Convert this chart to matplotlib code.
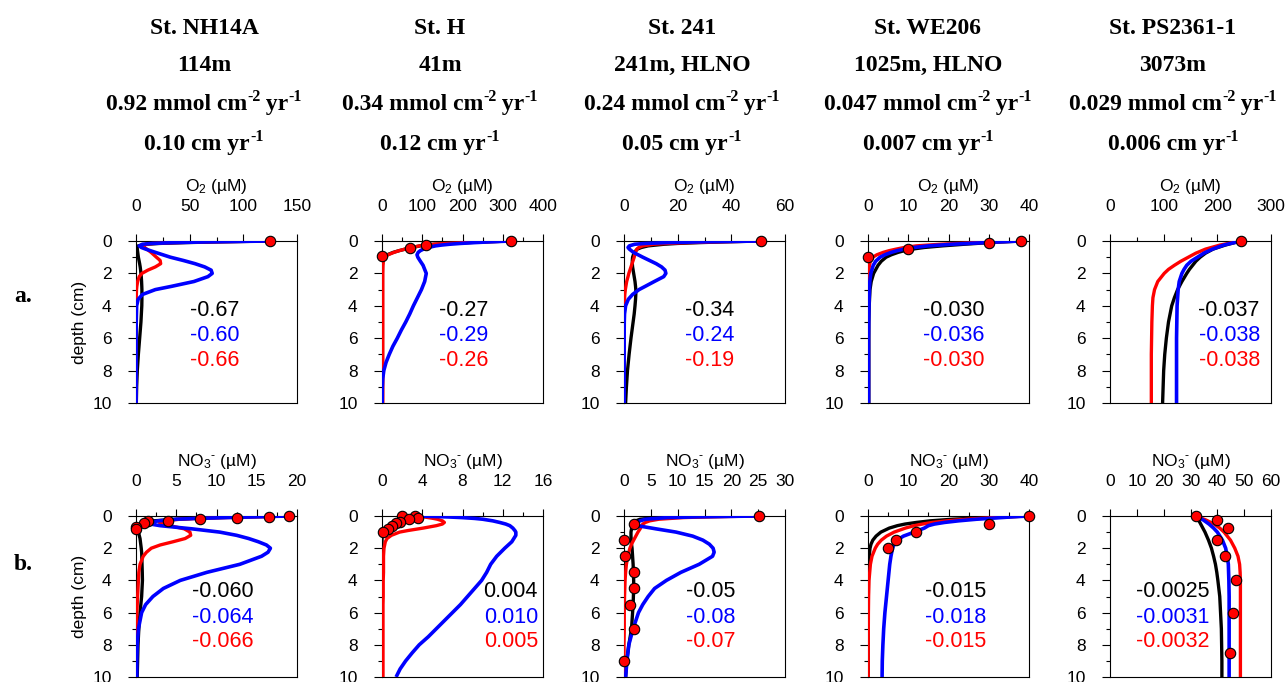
import matplotlib
matplotlib.use("Agg")
import matplotlib.pyplot as plt
from matplotlib.ticker import MultipleLocator, NullLocator
from matplotlib.transforms import IdentityTransform

plt.rcParams['font.family'] = ['Liberation Sans', 'DejaVu Sans']
plt.rcParams['mathtext.fontset'] = 'custom'
plt.rcParams['mathtext.rm'] = 'Liberation Sans'
plt.rcParams['mathtext.it'] = 'Liberation Sans:italic'
plt.rcParams['mathtext.bf'] = 'Liberation Sans:bold'

# ---------------- header text ----------------
stations = ["St. NH14A", "St. H", "St. 241", "St. WE206", "St. PS2361-1"]
water_depths = ["114m", "41m", "241m, HLNO", "1025m, HLNO", "3073m"]
fluxes = ["0.92", "0.34", "0.24", "0.047", "0.029"]
sed_rates = ["0.10", "0.12", "0.05", "0.007", "0.006"]

# ---------------- O2 panels (row a) ----------------
o2_nh14a_depth = [0, 0.05, 0.1, 0.15, 0.2, 0.3, 0.4, 0.5, 0.7, 1.0, 1.2, 1.4, 1.6, 1.8,
                  2.0, 2.2, 2.5, 2.8, 3.0, 3.3, 3.6, 4.0, 5.0, 6.0, 7.0, 8.0, 9.0, 10.0]
o2_nh14a_black = [125, 80, 45, 22, 10, 2, 1, 1.2, 1.6, 2.2, 2.8, 3.4, 3.9, 4.3,
                  4.6, 4.9, 5.2, 5.4, 5.5, 5.5, 5.5, 5.4, 4.6, 3.4, 2.2, 1.2, 0.6, 0.3]
o2_nh14a_blue = [125, 70, 35, 15, 6, 3, 5, 9, 18, 32, 44, 55, 64, 70,
                 71, 67, 54, 33, 18, 6, 2, 0.6, 0.2, 0.1, 0.1, 0.1, 0.1, 0.1]
o2_nh14a_red = [125, 70, 35, 16, 9, 7, 8, 10, 14, 19, 22.5, 23, 18, 11,
                5.5, 3, 1.5, 0.8, 0.5, 0.3, 0.2, 0.1, 0, 0, 0, 0, 0, 0]
o2_nh14a_obs_val = [125]
o2_nh14a_obs_depth = [0]

o2_h_depth = [0, 0.05, 0.1, 0.15, 0.2, 0.25, 0.3, 0.4, 0.5, 0.6, 0.7, 0.85, 1.0, 1.2, 1.5,
              2.0, 2.5, 3.0, 3.5, 4.0, 4.5, 5.0, 5.5, 6.0, 6.5, 7.0, 7.5, 8.0, 8.5, 9.0, 10.0]
o2_h_black = [320, 260, 210, 165, 130, 110, 95, 75, 58, 42, 28, 13, 5, 2, 1,
              1, 1, 1, 1, 1, 1, 1, 1, 1, 1, 1, 1, 1, 1, 1, 1]
o2_h_blue = [320, 270, 230, 195, 168, 148, 133, 115, 103, 95, 90, 87, 89, 94, 102,
             110, 106, 98, 88, 78, 69, 59, 48, 38, 27, 18, 10, 4.5, 1.8, 0.8, 0.5]
o2_h_red = [320, 255, 205, 160, 128, 108, 93, 74, 57, 42, 30, 15, 7, 3.5, 2.5,
            2, 2, 2, 2, 2, 2, 2, 2, 2, 2, 2, 2, 2, 2, 2, 2]
o2_h_obs_val = [320, 110, 70, 0]
o2_h_obs_depth = [0, 0.25, 0.45, 0.93]

o2_241_depth = [0, 0.05, 0.1, 0.15, 0.2, 0.3, 0.4, 0.5, 0.7, 1.0, 1.2, 1.4, 1.6, 1.8, 2.0,
                2.2, 2.5, 2.8, 3.0, 3.3, 3.6, 4.0, 4.5, 5.0, 6.0, 7.0, 8.0, 9.0, 10.0]
o2_241_black = [51, 38, 28, 20, 15, 9, 6.5, 5, 3.8, 3.2, 3.1, 3.1, 3.2, 3.4, 3.6,
                3.8, 4.1, 4.3, 4.4, 4.4, 4.3, 4.1, 3.8, 3.4, 2.6, 1.9, 1.3, 0.9, 0.6]
o2_241_blue = [51, 30, 16, 8, 4, 2, 1.5, 2, 3.5, 7, 9.5, 12, 14, 15.3, 15.6,
               14.8, 11.3, 7.9, 5.6, 3.2, 1.6, 0.6, 0.2, 0.1, 0.05, 0.05, 0.05, 0.05, 0.05]
o2_241_red = [51, 35, 24, 16, 11, 7, 5.5, 4.8, 4.2, 3.8, 3.4, 3.0, 2.6, 2.2, 1.8,
              1.5, 1.0, 0.7, 0.5, 0.3, 0.2, 0.1, 0, 0, 0, 0, 0, 0, 0]
o2_241_obs_val = [51]
o2_241_obs_depth = [0]

o2_we206_depth = [0, 0.05, 0.1, 0.15, 0.2, 0.3, 0.4, 0.5, 0.6, 0.7, 0.85, 1.0, 1.25, 1.5,
                  2.0, 2.5, 3.0, 4.0, 5.0, 6.0, 8.0, 10.0]
o2_we206_black = [38, 34, 30, 27, 24, 18.5, 14, 11, 9, 7.5, 5.8, 4.5, 3.3, 2.5,
                  1.4, 0.8, 0.5, 0.3, 0.2, 0.2, 0.2, 0.2]
o2_we206_blue = [38, 33, 29, 25, 21, 15, 11.5, 9, 7.2, 5.8, 4.2, 3.0, 1.9, 1.3,
                 0.7, 0.45, 0.35, 0.25, 0.2, 0.15, 0.15, 0.15]
o2_we206_red = [38, 32, 27, 22, 18, 12, 9, 7, 5.2, 3.8, 2.2, 1.2, 0.6, 0.35,
                0.15, 0.1, 0.1, 0.1, 0.1, 0.1, 0.1, 0.1]
o2_we206_obs_val = [38, 30, 10, 0]
o2_we206_obs_depth = [0, 0.1, 0.5, 1.0]

o2_ps_depth = [0, 0.25, 0.5, 0.75, 1.0, 1.25, 1.5, 1.75, 2.0, 2.5, 3.0, 3.5, 4.0, 5.0, 6.0, 7.0, 8.0, 9.0, 10.0]
o2_ps_black = [244, 215, 192, 178, 168, 160, 154, 148, 143, 134, 126, 120, 115, 109, 105, 102, 100, 99, 98]
o2_ps_blue = [244, 212, 191, 175, 163, 151, 143, 138, 134, 129, 127, 126, 125, 124.5, 124, 124, 124, 124, 124]
o2_ps_red = [244, 205, 178, 160, 146, 132, 120, 109, 101, 89, 83, 80, 79, 78, 77.5, 77, 77, 77, 77]
o2_ps_obs_val = [244]
o2_ps_obs_depth = [0]

# ---------------- NO3 panels (row b) ----------------
no3_nh14a_depth = [0, 0.05, 0.1, 0.15, 0.2, 0.3, 0.4, 0.5, 0.6, 0.8, 1.0, 1.2, 1.4, 1.6, 1.8,
                   2.0, 2.25, 2.5, 3.0, 3.5, 4.0, 4.5, 5.0, 5.5, 6.0, 7.0, 8.0, 9.0, 10.0]
no3_nh14a_black = [19, 14, 10, 7, 5, 2.2, 1.0, 0.5, 0.3, 0.2, 0.3, 0.4, 0.5, 0.55, 0.6,
                   0.65, 0.7, 0.72, 0.75, 0.78, 0.8, 0.75, 0.7, 0.6, 0.5, 0.35, 0.25, 0.2, 0.15]
no3_nh14a_blue = [19, 15, 11, 7.5, 5, 2.8, 1.6, 1.8, 3, 7, 10.4, 12.5, 14, 15.2, 16.2,
                  16.7, 16.4, 15.6, 12.9, 8.8, 5.5, 3.4, 2.1, 1.2, 0.7, 0.3, 0.15, 0.1, 0.1]
no3_nh14a_red = [19, 15, 11, 7.5, 5.5, 3.5, 2.9, 3.2, 4.2, 6, 6.7, 6.8, 6.1, 4.6, 3.0,
                 1.9, 1.3, 0.9, 0.5, 0.35, 0.3, 0.25, 0.2, 0.15, 0.1, 0.05, 0, 0, 0]
no3_nh14a_obs_val = [19, 16.5, 12.5, 8, 4, 1.5, 1.0, 0, 0]
no3_nh14a_obs_depth = [0, 0.08, 0.14, 0.2, 0.29, 0.33, 0.43, 0.7, 0.82]

no3_h_depth = [0, 0.03, 0.06, 0.1, 0.15, 0.2, 0.3, 0.4, 0.5, 0.6, 0.75, 0.9, 1.0, 1.2, 1.4, 1.6, 2.0, 2.5,
               3.0, 3.5, 4.0, 4.5, 5.0, 5.5, 6.0, 6.5, 7.0, 7.5, 8.0, 8.5, 9.0, 9.5, 10.0]
no3_h_black = [3.5, 3.4, 3.3, 3.0, 2.8, 2.5, 2.0, 1.6, 1.25, 0.95, 0.6, 0.3, 0.15, 0.05, 0, 0, 0, 0,
               0, 0, 0, 0, 0, 0, 0, 0, 0, 0, 0, 0, 0, 0, 0]
no3_h_blue = [3.6, 5.2, 6.6, 8.0, 9.2, 10.0, 11.0, 11.7, 12.3, 12.7, 13.0, 13.2, 13.3, 13.3, 13.1, 12.9, 12.2, 11.4,
              10.8, 10.4, 9.9, 9.2, 8.5, 7.8, 7.0, 6.2, 5.4, 4.6, 3.7, 3.0, 2.35, 1.8, 1.4]
no3_h_red = [3.6, 3.9, 4.2, 4.6, 5.1, 5.5, 6.0, 6.2, 6.0, 5.4, 4.1, 2.6, 1.75, 0.93, 0.5, 0.33, 0.2, 0.15,
             0.15, 0.15, 0.12, 0.12, 0.12, 0.1, 0.1, 0.1, 0.1, 0.1, 0.1, 0.1, 0.1, 0.1, 0.1]
no3_h_obs_val = [2.0, 3.3, 3.6, 2.7, 1.8, 1.4, 1.0, 0.6, 0.1]
no3_h_obs_depth = [0, 0, 0.1, 0.2, 0.35, 0.45, 0.6, 0.8, 0.97]

no3_241_depth = [0, 0.05, 0.1, 0.2, 0.3, 0.4, 0.5, 0.6, 0.8, 1.0, 1.25, 1.5, 1.75, 2.0,
                 2.25, 2.5, 3.0, 3.5, 4.0, 4.5, 5.0, 5.5, 6.0, 6.5, 7.0, 8.0, 9.0, 10.0]
no3_241_black = [25, 12, 6, 3, 2.2, 2.0, 1.8, 1.6, 1.4, 1.3, 1.3, 1.35, 1.4, 1.5,
                 1.55, 1.6, 1.7, 1.75, 1.8, 1.8, 1.75, 1.7, 1.6, 1.5, 1.4, 0.9, 0.5, 0.3]
no3_241_blue = [25, 14, 8, 4, 3, 2.4, 2.2, 2.5, 6, 9.7, 12.8, 14.7, 15.9, 16.6,
                16.8, 16.5, 14.0, 10.6, 7.9, 5.7, 4.5, 3.5, 2.7, 2.2, 1.7, 0.9, 0.55, 0.3]
no3_241_red = [25, 16, 11, 6.5, 4.8, 4.0, 3.5, 3.3, 3.0, 2.6, 2.2, 1.8, 1.4, 1.1,
               0.9, 0.7, 0.45, 0.3, 0.2, 0.15, 0.1, 0.08, 0.05, 0.05, 0.05, 0, 0, 0]
no3_241_obs_val = [25.2, 1.85, 0, 0.1, 1.85, 1.85, 1.1, 1.85, 0]
no3_241_obs_depth = [0, 0.5, 1.5, 2.5, 3.5, 4.5, 5.5, 7.0, 9.0]

no3_we206_depth = [0, 0.05, 0.1, 0.2, 0.3, 0.4, 0.5, 0.6, 0.75, 1.0, 1.25, 1.5, 1.75, 2.0,
                   2.5, 3.0, 4.0, 5.0, 6.0, 7.0, 8.0, 9.0, 10.0]
no3_we206_black = [40, 34, 29, 21, 15.5, 12, 9.2, 7.3, 5.3, 3.2, 2.0, 1.2, 0.75, 0.5,
                   0.3, 0.2, 0.1, 0.08, 0.06, 0.05, 0.05, 0.05, 0.05]
no3_we206_blue = [40, 36, 33, 27, 22.5, 19, 16.5, 15, 14, 11.5, 8.8, 7.2, 6.5, 6.1,
                  5.7, 5.4, 5.0, 4.6, 4.2, 3.9, 3.7, 3.55, 3.5]
no3_we206_red = [40, 35, 31, 24.5, 19.5, 16, 13.5, 11.5, 9.3, 6.5, 4.6, 3.3, 2.4, 1.8,
                 1.0, 0.6, 0.25, 0.15, 0.1, 0.08, 0.05, 0.05, 0.05]
no3_we206_obs_val = [40, 30, 12, 7, 5]
no3_we206_obs_depth = [0, 0.5, 1.0, 1.5, 2.0]

no3_ps_depth = [0, 0.25, 0.5, 0.75, 1.0, 1.5, 2.0, 2.5, 3.0, 3.5, 4.0, 5.0, 6.0, 7.0, 8.0, 9.0, 10.0]
no3_ps_black = [32, 33, 33.8, 34.6, 35.4, 36.7, 37.8, 38.6, 39.3, 39.8, 40.2, 40.9, 41.2, 41.5, 41.6, 41.7, 41.7]
no3_ps_blue = [32, 34.8, 36.9, 38.6, 40, 41.9, 43.1, 43.7, 44.1, 44.2, 44.3, 44.4, 44.4, 44.4, 44.4, 44.4, 44.4]
no3_ps_red = [32, 35.8, 38.8, 40.9, 42.5, 44.9, 46.5, 47.7, 48.3, 48.5, 48.6, 48.6, 48.6, 48.6, 48.6, 48.6, 48.6]
no3_ps_obs_val = [32, 40, 43.8, 40, 43, 47, 45.9, 44.9]
no3_ps_obs_depth = [0, 0.25, 0.75, 1.5, 2.5, 4.0, 6.0, 8.5]

# ---------------- panel annotations ----------------
o2_labels = [["-0.67", "-0.60", "-0.66"], ["-0.27", "-0.29", "-0.26"], ["-0.34", "-0.24", "-0.19"],
             ["-0.030", "-0.036", "-0.030"], ["-0.037", "-0.038", "-0.038"]]
no3_labels = [["-0.060", "-0.064", "-0.066"], ["0.004", "0.010", "0.005"], ["-0.05", "-0.08", "-0.07"],
              ["-0.015", "-0.018", "-0.015"], ["-0.0025", "-0.0031", "-0.0032"]]
o2_xmax = [150, 400, 60, 40, 300]
o2_major = [50, 100, 20, 10, 100]
no3_xmax = [20, 16, 30, 40, 60]
no3_major = [5, 4, 5, 10, 10]
no3_minor = [2.5, 2, None, 5, None]

o2_panels = [
    (o2_nh14a_depth, o2_nh14a_black, o2_nh14a_blue, o2_nh14a_red, o2_nh14a_obs_val, o2_nh14a_obs_depth),
    (o2_h_depth, o2_h_black, o2_h_blue, o2_h_red, o2_h_obs_val, o2_h_obs_depth),
    (o2_241_depth, o2_241_black, o2_241_blue, o2_241_red, o2_241_obs_val, o2_241_obs_depth),
    (o2_we206_depth, o2_we206_black, o2_we206_blue, o2_we206_red, o2_we206_obs_val, o2_we206_obs_depth),
    (o2_ps_depth, o2_ps_black, o2_ps_blue, o2_ps_red, o2_ps_obs_val, o2_ps_obs_depth),
]
no3_panels = [
    (no3_nh14a_depth, no3_nh14a_black, no3_nh14a_blue, no3_nh14a_red, no3_nh14a_obs_val, no3_nh14a_obs_depth),
    (no3_h_depth, no3_h_black, no3_h_blue, no3_h_red, no3_h_obs_val, no3_h_obs_depth),
    (no3_241_depth, no3_241_black, no3_241_blue, no3_241_red, no3_241_obs_val, no3_241_obs_depth),
    (no3_we206_depth, no3_we206_black, no3_we206_blue, no3_we206_red, no3_we206_obs_val, no3_we206_obs_depth),
    (no3_ps_depth, no3_ps_black, no3_ps_blue, no3_ps_red, no3_ps_obs_val, no3_ps_obs_depth),
]

W, H = 1287, 682
fig = plt.figure(figsize=(W / 100, H / 100), dpi=100)

lefts_px = [136, 382, 624, 868, 1110]
width_px = 161
row_top_px = [241, 516]
row_h_px = [162, 161]
title_cx_px = [204, 440, 682, 928, 1173]
o2_text_x = [0.49, 0.51, 0.53, 0.53, 0.74]
no3_text_x = [0.54, 0.80, 0.54, 0.545, 0.39]
o2_text_d = [4.3, 5.85, 7.4]
no3_text_d = [4.68, 6.3, 7.8]

TICK_FS = 12.5
ANN_FS = 15.5

# nitrate label: hyphen superscript placed after the subscript
no3_label = r'NO$_3{}^{\text{-}}$ (µM)'
try:
    from matplotlib.mathtext import MathTextParser
    MathTextParser('agg').parse(no3_label, 100)
except Exception:
    no3_label = r'NO$_3{}^-$ (µM)'


def style_axes(ax, xmax, major, minor, xlabel, first_col):
    ax.set_xlim(0, xmax)
    ax.set_ylim(10, 0)
    ax.xaxis.tick_top()
    ax.xaxis.set_label_position('top')
    ax.xaxis.set_major_locator(MultipleLocator(major))
    if minor:
        ax.xaxis.set_minor_locator(MultipleLocator(minor))
    else:
        ax.xaxis.set_minor_locator(NullLocator())
    ax.yaxis.set_major_locator(MultipleLocator(2))
    ax.yaxis.set_minor_locator(MultipleLocator(1))
    ax.tick_params(axis='x', which='major', direction='out', length=5, width=0.8,
                   pad=14.5, labelsize=TICK_FS)
    ax.tick_params(axis='x', which='minor', direction='out', length=3, width=0.8)
    ax.tick_params(axis='y', which='major', direction='out', length=5.5, width=0.8,
                   pad=12, labelsize=TICK_FS)
    ax.tick_params(axis='y', which='minor', direction='out', length=3, width=0.8)
    for sp in ax.spines.values():
        sp.set_linewidth(0.8)
    ax.set_xlabel(xlabel, fontsize=TICK_FS, labelpad=6)
    if first_col:
        ax.set_ylabel('depth (cm)', fontsize=TICK_FS, labelpad=4)


def draw_panel(ax, data, labels, tx, tds):
    depth, blk, blu, red, ov, od = data
    ax.plot(blk, depth, color='black', lw=2.4, zorder=2, solid_capstyle='butt')
    ax.plot(red, depth, color='#ff0000', lw=2.4, zorder=3, solid_capstyle='butt')
    ax.plot(blu, depth, color='#0000ff', lw=2.6, zorder=4, solid_capstyle='butt')
    ax.plot(ov, od, linestyle='none', marker='o', markersize=7.5, markerfacecolor='#ff0000',
            markeredgecolor='black', markeredgewidth=0.8, zorder=5, clip_on=False)
    for lab, col, d in zip(labels, ['black', '#0000ff', '#ff0000'], tds):
        ax.text(tx, 1 - d / 10.0, lab, transform=ax.transAxes, color=col, fontsize=ANN_FS,
                ha='center', va='center')


for r in range(2):
    for c in range(5):
        l = lefts_px[c] / W
        b = 1 - (row_top_px[r] + row_h_px[r]) / H
        ax = fig.add_axes([l, b, width_px / W, row_h_px[r] / H])
        if r == 0:
            style_axes(ax, o2_xmax[c], o2_major[c], o2_major[c] / 2, r'O$_2$ (µM)', c == 0)
            draw_panel(ax, o2_panels[c], o2_labels[c], o2_text_x[c], o2_text_d)
        else:
            style_axes(ax, no3_xmax[c], no3_major[c], no3_minor[c], no3_label, c == 0)
            draw_panel(ax, no3_panels[c], no3_labels[c], no3_text_x[c], no3_text_d)

# header titles, built from segments so superscripts use a short hyphen
TITLE_FS = 17
SUP_FS = 11.5
SUP_RAISE = 9
base_y = [34, 71, 110, 150]
renderer = fig.canvas.get_renderer()
serif = ['Liberation Serif', 'DejaVu Serif']


def title_line(cx, by, segments):
    texts = []
    widths = []
    for s, sup in segments:
        t = fig.text(0, 0, s, transform=IdentityTransform(), ha='left', va='baseline',
                     fontsize=SUP_FS if sup else TITLE_FS, fontweight='bold', family=serif)
        texts.append((t, sup))
        widths.append(t.get_window_extent(renderer).width)
    total = sum(widths)
    x = cx - total / 2
    ybase = H - by
    for (t, sup), w in zip(texts, widths):
        t.set_position((x, ybase + (SUP_RAISE if sup else 0)))
        x += w


for c in range(5):
    cx = title_cx_px[c]
    title_line(cx, base_y[0], [(stations[c], False)])
    title_line(cx, base_y[1], [(water_depths[c], False)])
    title_line(cx, base_y[2], [(fluxes[c] + " mmol cm", False), ("-2", True), (" yr", False), ("-1", True)])
    title_line(cx, base_y[3], [(sed_rates[c] + " cm yr", False), ("-1", True)])

fig.text(14 / W, 1 - 302 / H, 'a.', ha='left', va='baseline', fontsize=TITLE_FS,
         fontweight='bold', family=serif)
fig.text(14 / W, 1 - 570 / H, 'b.', ha='left', va='baseline', fontsize=TITLE_FS,
         fontweight='bold', family=serif)

fig.savefig('out.png', dpi=100)
